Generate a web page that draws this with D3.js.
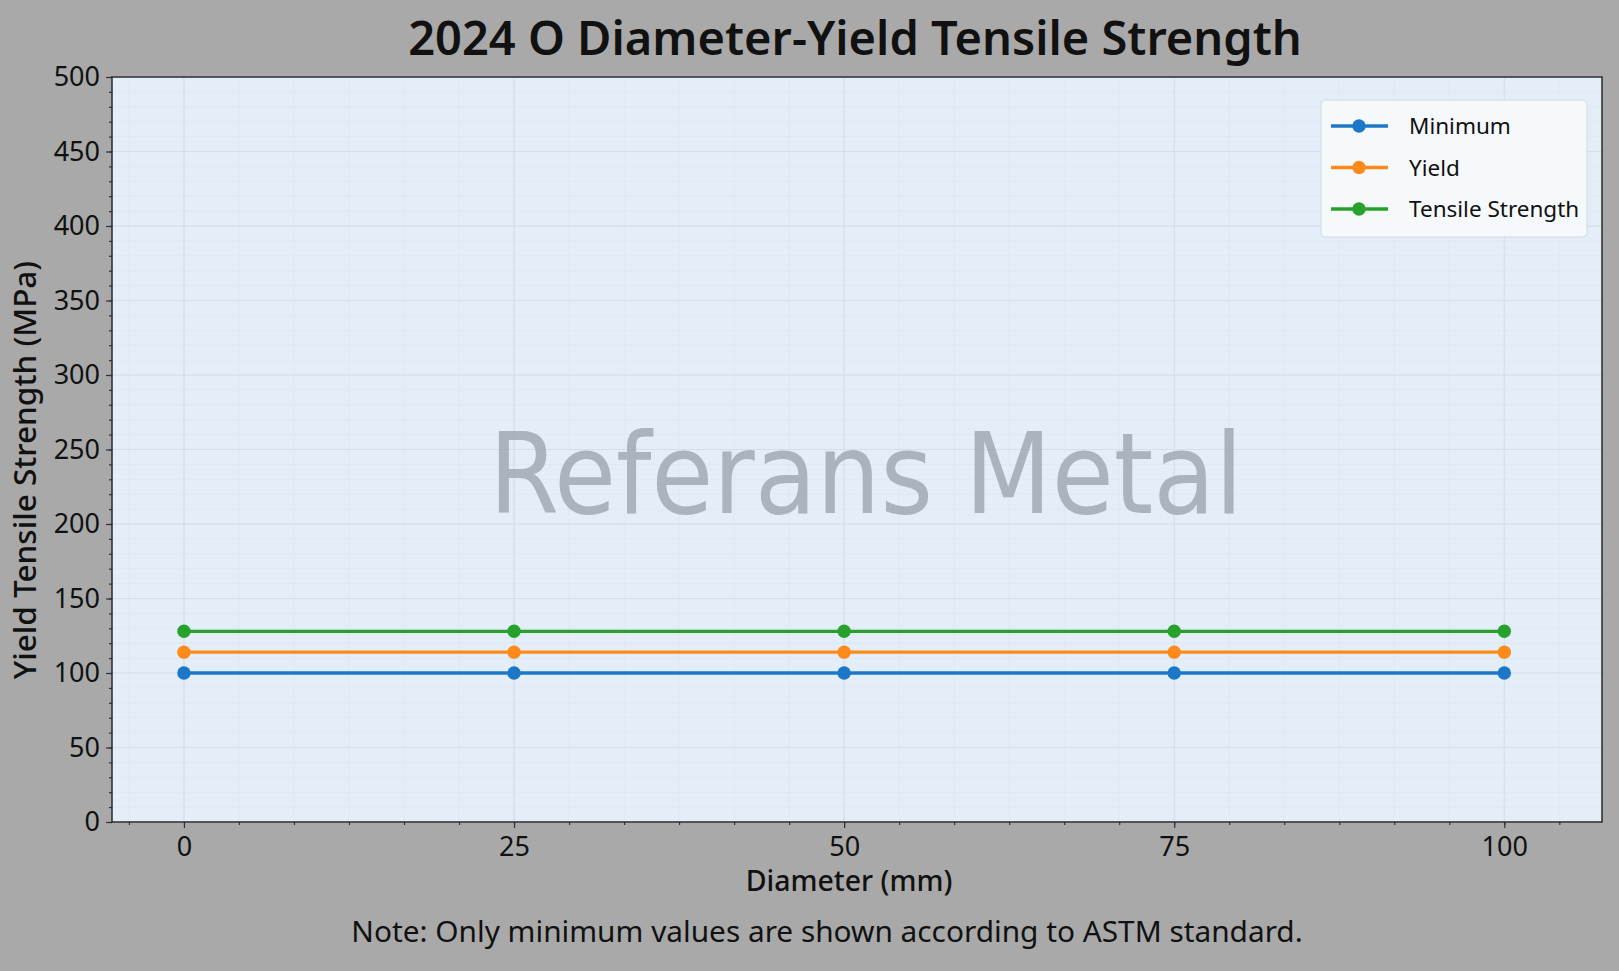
<!doctype html>
<html>
<head>
<meta charset="utf-8">
<style>
html, body { margin:0; padding:0; background:#a9a9a9; }
svg { display:block; font-family:"Noto Sans","Open Sans",sans-serif; }
</style>
<script src="https://d3js.org/d3.v7.min.js"></script>
</head>
<body>
<script>

// chart data
var diameters = [0, 25, 50, 75, 100];
var minimumValues = [100, 100, 100, 100, 100];
var yieldValues = [114, 114, 114, 114, 114];
var tensileValues = [128, 128, 128, 128, 128];
var seriesNames = ['Minimum', 'Yield', 'Tensile Strength'];
var xTicks = [0, 25, 50, 75, 100];
var yTicks = [0, 50, 100, 150, 200, 250, 300, 350, 400, 450, 500];

var W = 1619, H = 971;
var pLeft = 112, pRight = 1602, pTop = 77, pBottom = 822;
var colors = ['#1c78c6', '#fd8a1b', '#27a02c'];

var svg = d3.select('body').append('svg')
	.attr('width', W)
	.attr('height', H);

svg.append('rect').attr('width', W).attr('height', H).attr('fill', '#a9a9a9');

var x = d3.scaleLinear().domain([-5.45, 107.4]).range([pLeft, pRight]);
var y = d3.scaleLinear().domain([0, 500]).range([pBottom, pTop]);

// plot area
svg.append('rect')
	.attr('x', pLeft).attr('y', pTop)
	.attr('width', pRight - pLeft).attr('height', pBottom - pTop)
	.attr('fill', '#e4eef9');

var xMinor = d3.range(-25/6, 107.4, 25/6);
var yMinor = d3.range(0, 501, 10);

// faint minor grid
var grid = svg.append('g');
grid.selectAll('.gx').data(xMinor).enter().append('line')
	.attr('x1', function(d){ return x(d); }).attr('x2', function(d){ return x(d); })
	.attr('y1', pTop).attr('y2', pBottom)
	.attr('stroke', '#d6e1ed').attr('stroke-width', 0.6).attr('opacity', 0.6);
grid.selectAll('.gy').data(yMinor).enter().append('line')
	.attr('y1', function(d){ return y(d); }).attr('y2', function(d){ return y(d); })
	.attr('x1', pLeft).attr('x2', pRight)
	.attr('stroke', '#d6e1ed').attr('stroke-width', 0.6).attr('opacity', 0.6);
// major grid
grid.selectAll('.mx').data(xTicks).enter().append('line')
	.attr('x1', function(d){ return x(d); }).attr('x2', function(d){ return x(d); })
	.attr('y1', pTop).attr('y2', pBottom)
	.attr('stroke', '#d3deea').attr('stroke-width', 1);
grid.selectAll('.my').data(yTicks).enter().append('line')
	.attr('y1', function(d){ return y(d); }).attr('y2', function(d){ return y(d); })
	.attr('x1', pLeft).attr('x2', pRight)
	.attr('stroke', '#d3deea').attr('stroke-width', 1);

// watermark
svg.append('text')
	.attr('x', (pLeft + pRight) / 2 + 9)
	.attr('y', 513)
	.attr('text-anchor', 'middle')
	.style('font-family', '"DejaVu Sans Condensed","DejaVu Sans",sans-serif')
	.style('font-stretch', 'condensed')
	.style('font-size', '112px')
	.attr('fill', '#9ba4af')
	.attr('opacity', 0.78)
	.text('Referans Metal');

// series
var series = [minimumValues, yieldValues, tensileValues];
var line = d3.line()
	.x(function(d, i){ return x(diameters[i]); })
	.y(function(d){ return y(d); });

series.forEach(function(vals, k) {
	svg.append('path')
		.datum(vals)
		.attr('d', line)
		.attr('fill', 'none')
		.attr('stroke', colors[k])
		.attr('stroke-width', 3.3);
	svg.selectAll('.dot' + k)
		.data(vals)
		.enter().append('circle')
		.attr('cx', function(d, i){ return x(diameters[i]); })
		.attr('cy', function(d){ return y(d); })
		.attr('r', 6.7)
		.attr('fill', colors[k]);
});

// axes
var xAxis = svg.append('g').attr('transform', 'translate(0,' + pBottom + ')')
	.call(d3.axisBottom(x).tickValues(xTicks).tickSize(6).tickPadding(9));
var xAxisMinor = svg.append('g').attr('transform', 'translate(0,' + pBottom + ')')
	.call(d3.axisBottom(x).tickValues(xMinor).tickSize(3).tickFormat(''));
var yAxis = svg.append('g').attr('transform', 'translate(' + pLeft + ',0)')
	.call(d3.axisLeft(y).tickValues(yTicks).tickSize(6).tickPadding(6));
var yAxisMinor = svg.append('g').attr('transform', 'translate(' + pLeft + ',0)')
	.call(d3.axisLeft(y).tickValues(yMinor).tickSize(3).tickFormat(''));

[xAxis, xAxisMinor, yAxis, yAxisMinor].forEach(function(g) {
	g.select('.domain').remove();
	g.selectAll('line').attr('stroke', '#333').attr('stroke-width', 1.2);
	g.selectAll('text').attr('fill', '#111').style('font-size', '27px')
		.style('font-family', '"Noto Sans","Open Sans",sans-serif');
});

// frame
svg.append('rect')
	.attr('x', pLeft).attr('y', pTop)
	.attr('width', pRight - pLeft).attr('height', pBottom - pTop)
	.attr('fill', 'none').attr('stroke', '#2a2a2a').attr('stroke-width', 1.5);

// titles
svg.append('text')
	.attr('x', 855).attr('y', 55)
	.attr('text-anchor', 'middle')
	.style('font-size', '47px').style('font-weight', 600)
	.attr('fill', '#111')
	.text('2024 O Diameter-Yield Tensile Strength');

svg.append('text')
	.attr('x', 849).attr('y', 891)
	.attr('text-anchor', 'middle')
	.style('font-size', '28.5px').style('font-weight', 500)
	.attr('fill', '#111')
	.text('Diameter (mm)');

svg.append('text')
	.attr('transform', 'translate(36,470) rotate(-90)')
	.attr('text-anchor', 'middle')
	.style('font-size', '31.5px').style('font-weight', 500)
	.attr('fill', '#111')
	.text('Yield Tensile Strength (MPa)');

svg.append('text')
	.attr('x', 827).attr('y', 942)
	.attr('text-anchor', 'middle')
	.style('font-size', '29.8px')
	.attr('fill', '#111')
	.text('Note: Only minimum values are shown according to ASTM standard.');

// legend
var legend = svg.append('g').attr('transform', 'translate(1321,100)');
legend.append('rect')
	.attr('width', 266).attr('height', 137)
	.attr('rx', 4)
	.attr('fill', '#f7f9fc').attr('fill-opacity', 0.95)
	.attr('stroke', '#d4d8dd').attr('stroke-width', 1);

seriesNames.forEach(function(name, k) {
	var row = legend.append('g').attr('transform', 'translate(0,' + (26 + k * 41.5) + ')');
	row.append('line').attr('x1', 10).attr('x2', 67).attr('y1', 0).attr('y2', 0)
		.attr('stroke', colors[k]).attr('stroke-width', 3.3);
	row.append('circle').attr('cx', 38).attr('cy', 0).attr('r', 6.7).attr('fill', colors[k]);
	row.append('text').attr('x', 88).attr('y', 8)
		.style('font-size', '22.5px').attr('fill', '#111')
		.text(name);
});

</script>
</body>
</html>
